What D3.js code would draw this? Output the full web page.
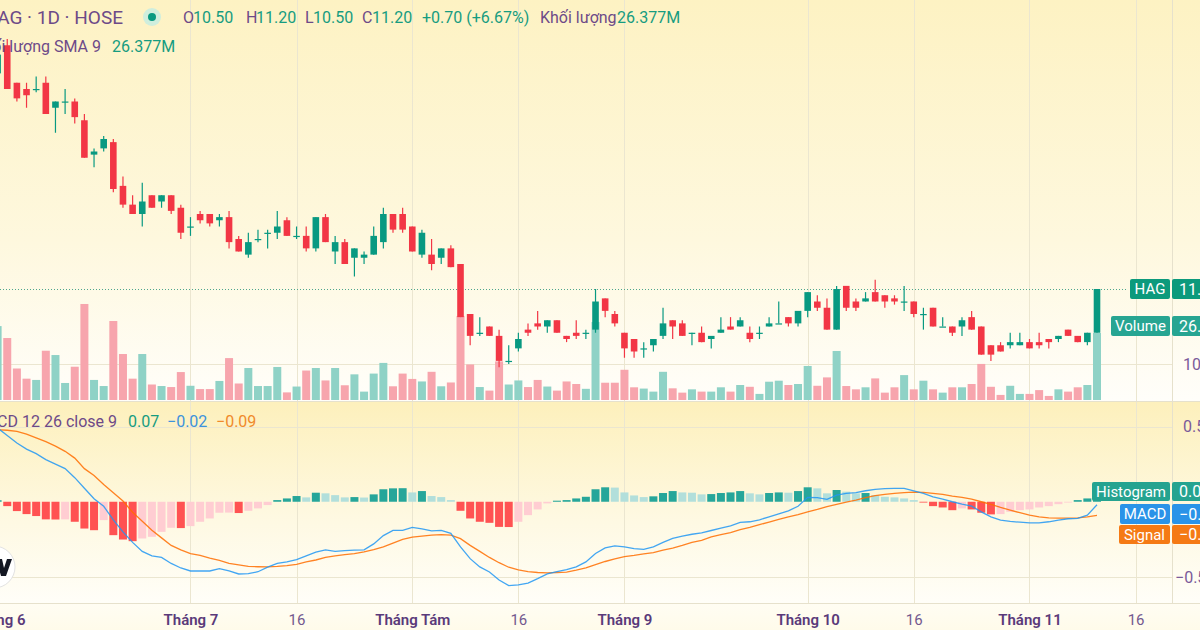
<!DOCTYPE html>
<html><head><meta charset="utf-8">
<script src="https://cdn.jsdelivr.net/npm/d3@7"></script>
<style>
html,body{margin:0;padding:0;background:#fffdf2;overflow:hidden}
svg{display:block;font-family:Roboto,"Noto Sans",sans-serif}
</style></head><body>
<svg id="c" width="1200" height="630"></svg>
<script>
// ---------- DATA ----------
const dates = [
"06-03","06-04","06-05","06-06","06-07","06-10","06-11","06-12","06-13","06-14","06-17","06-18","06-19","06-20","06-21","06-24","06-25","06-26","06-27","06-28",
"07-01","07-02","07-03","07-04","07-05","07-08","07-09","07-10","07-11","07-12","07-15","07-16","07-17","07-18","07-19","07-22","07-23","07-24","07-25","07-26","07-29","07-30","07-31",
"08-01","08-02","08-05","08-06","08-07","08-08","08-09","08-12","08-13","08-14","08-15","08-16","08-19","08-20","08-21","08-22","08-23","08-26","08-27","08-28","08-29","08-30",
"09-04","09-05","09-06","09-09","09-10","09-11","09-12","09-13","09-16","09-17","09-18","09-19","09-20","09-23","09-24","09-25","09-26","09-27","09-30",
"10-01","10-02","10-03","10-04","10-07","10-08","10-09","10-10","10-11","10-14","10-15","10-16","10-17","10-18","10-21","10-22","10-23","10-24","10-25","10-28","10-29","10-30","10-31",
"11-01","11-04","11-05","11-06","11-07","11-08","11-11","11-12"];
const open = [14.65,15.10,14.50,14.40,14.40,14.50,14.10,14.20,14.20,13.90,
13.35,13.45,13.55,12.85,12.55,12.40,12.70,12.60,12.70,12.50,
12.20,12.40,12.40,12.30,12.35,12.00,11.75,12.00,12.10,12.10,
12.30,12.05,12.05,11.85,12.35,11.80,11.95,11.70,11.70,11.75,
11.95,12.40,12.40,12.20,11.75,11.75,11.70,11.85,11.60,10.80,
10.50,10.60,10.45,10.05,10.25,10.55,10.65,10.60,10.70,10.45,
10.50,10.50,10.55,11.05,10.80,10.50,10.40,10.25,10.30,10.45,
10.70,10.65,10.50,10.50,10.40,10.50,10.60,10.60,10.50,10.50,
10.60,10.65,10.75,10.65,10.85,11.00,10.90,10.55,11.25,11.00,
11.00,11.15,11.10,11.05,11.00,11.00,10.80,10.90,10.60,10.60,
10.60,10.75,10.60,10.30,10.30,10.30,10.30,10.35,10.35,10.40,
10.40,10.55,10.45,10.35,10.50];
const high = [15.00,15.20,14.50,14.50,14.60,14.60,14.20,14.40,14.25,14.00,
13.45,13.65,13.60,13.00,12.70,12.90,12.70,12.70,12.70,12.55,
12.35,12.45,12.40,12.40,12.45,12.05,12.10,12.15,12.15,12.45,
12.35,12.20,12.20,12.35,12.40,12.05,12.00,11.85,11.80,12.20,
12.50,12.40,12.50,12.20,12.15,12.00,11.85,11.90,11.60,10.80,
10.75,10.60,10.55,10.30,10.50,10.65,10.85,10.70,10.70,10.45,
10.70,10.55,11.20,11.05,10.85,10.50,10.40,10.35,10.40,10.90,
10.70,10.70,10.50,10.60,10.45,10.75,10.75,10.75,10.60,10.60,
10.75,11.00,10.75,10.85,11.15,11.10,11.05,11.25,11.25,11.05,
11.15,11.35,11.10,11.10,11.25,11.00,10.90,10.90,10.75,10.60,
10.75,10.85,10.60,10.30,10.35,10.50,10.50,10.40,10.50,10.40,
10.45,10.55,10.45,10.50,11.20];
const low = [14.60,14.40,14.20,14.10,14.35,14.00,13.70,14.00,13.85,13.30,
13.15,13.40,12.75,12.50,12.40,12.20,12.50,12.50,12.40,12.00,
12.05,12.25,12.20,12.20,11.85,11.80,11.70,11.95,11.85,12.00,
12.05,12.00,11.80,11.80,11.95,11.60,11.60,11.40,11.60,11.75,
11.85,12.10,12.10,11.80,11.70,11.50,11.60,11.55,10.75,10.30,
10.45,10.45,9.95,10.00,10.20,10.45,10.55,10.50,10.50,10.35,
10.40,10.40,10.50,10.75,10.60,10.10,10.10,10.10,10.20,10.40,
10.40,10.45,10.30,10.35,10.25,10.50,10.55,10.60,10.35,10.40,
10.60,10.65,10.60,10.60,10.75,10.85,10.55,10.55,10.85,10.85,
11.00,11.00,10.90,10.95,10.85,10.75,10.55,10.60,10.60,10.45,
10.45,10.55,10.15,10.05,10.20,10.25,10.30,10.25,10.25,10.25,
10.35,10.45,10.35,10.30,10.50];
const close = [14.95,14.40,14.25,14.30,14.40,14.00,14.20,14.20,13.95,13.30,
13.40,13.60,12.80,12.55,12.40,12.60,12.50,12.70,12.45,12.10,
12.20,12.30,12.25,12.35,11.95,11.80,11.95,12.00,12.10,12.20,
12.05,12.05,11.85,12.35,11.95,11.95,11.60,11.85,11.75,12.05,
12.40,12.15,12.15,11.80,12.10,11.60,11.85,11.55,10.75,10.45,
10.50,10.45,10.05,10.05,10.40,10.50,10.60,10.70,10.50,10.40,
10.45,10.50,11.00,10.85,10.65,10.25,10.20,10.25,10.40,10.65,
10.60,10.45,10.50,10.35,10.45,10.55,10.55,10.70,10.40,10.50,
10.65,10.65,10.65,10.85,11.15,10.90,10.55,11.20,10.90,10.90,
11.05,11.00,11.00,11.00,11.00,10.80,10.80,10.60,10.60,10.50,
10.70,10.55,10.15,10.15,10.20,10.35,10.35,10.25,10.30,10.35,
10.45,10.45,10.35,10.50,11.20];
const volume = [29.1,24.4,12.4,8.4,7.9,19.4,17.7,6.7,13.1,37.8,
7.9,5.5,31.1,18.1,8.4,18.1,6.1,5.5,5.1,11.0,
5.6,4.3,4.3,7.5,16.5,6.5,12.6,5.5,5.5,13.0,
3.0,5.3,11.6,12.6,7.7,12.6,5.8,10.1,3.3,10.4,
14.6,5.4,10.4,8.3,7.3,11.1,5.4,6.9,33.1,14.0,
5.1,3.7,15.2,6.1,7.7,5.1,7.9,5.3,3.7,7.3,
6.3,4.4,30.7,6.8,6.8,11.9,5.0,4.5,3.3,11.1,
4.6,2.9,4.2,3.3,3.3,5.0,3.3,5.9,5.2,2.4,
7.2,7.6,5.9,6.3,13.4,5.6,8.9,19.3,5.5,4.2,
5.0,8.5,2.9,5.0,9.8,4.2,7.6,4.2,2.9,5.0,
5.0,6.3,14.2,5.2,2.0,5.6,2.4,2.4,3.9,1.6,
4.2,3.3,5.0,5.9,26.377];
const macd = [0.49,0.44,0.39,0.35,0.32,0.28,0.25,0.22,0.16,0.09,
0.02,-0.03,-0.12,-0.20,-0.27,-0.33,-0.36,-0.37,-0.41,-0.44,
-0.46,-0.46,-0.46,-0.445,-0.46,-0.48,-0.478,-0.465,-0.435,-0.41,
-0.40,-0.385,-0.36,-0.335,-0.32,-0.33,-0.325,-0.322,-0.32,-0.28,
-0.225,-0.19,-0.19,-0.17,-0.18,-0.193,-0.19,-0.21,-0.30,-0.378,
-0.433,-0.467,-0.52,-0.557,-0.553,-0.54,-0.511,-0.48,-0.465,-0.451,
-0.433,-0.40,-0.344,-0.307,-0.293,-0.30,-0.311,-0.316,-0.30,-0.27,
-0.243,-0.228,-0.216,-0.207,-0.191,-0.175,-0.16,-0.137,-0.133,-0.12,
-0.10,-0.08,-0.06,-0.03,0.029,0.027,0.016,0.044,0.056,0.06,
0.073,0.082,0.087,0.089,0.089,0.073,0.056,0.033,0.018,0,
-0.016,-0.029,-0.067,-0.10,-0.122,-0.131,-0.136,-0.14,-0.14,-0.133,
-0.122,-0.113,-0.111,-0.089,-0.02];
const signal = [0.478,0.475,0.467,0.45,0.425,0.40,0.37,0.335,0.29,0.22,
0.175,0.115,0.06,0.005,-0.07,-0.13,-0.19,-0.24,-0.29,-0.32,
-0.345,-0.357,-0.375,-0.39,-0.41,-0.42,-0.43,-0.432,-0.433,-0.43,
-0.425,-0.416,-0.40,-0.387,-0.37,-0.36,-0.352,-0.345,-0.333,-0.318,
-0.30,-0.275,-0.25,-0.235,-0.228,-0.222,-0.218,-0.222,-0.245,-0.29,
-0.33,-0.37,-0.405,-0.435,-0.452,-0.464,-0.47,-0.473,-0.47,-0.467,
-0.455,-0.44,-0.418,-0.397,-0.38,-0.365,-0.357,-0.347,-0.338,-0.322,
-0.308,-0.29,-0.27,-0.256,-0.233,-0.218,-0.205,-0.185,-0.17,-0.152,
-0.135,-0.117,-0.10,-0.085,-0.067,-0.051,-0.033,-0.018,-0.002,0.011,
0.027,0.04,0.049,0.056,0.06,0.064,0.062,0.056,0.049,0.038,
0.029,0.018,0,-0.018,-0.038,-0.056,-0.073,-0.089,-0.10,-0.107,
-0.109,-0.109,-0.107,-0.10,-0.09];
const hist = [0.01,-0.029,-0.062,-0.082,-0.095,-0.117,-0.118,-0.117,-0.133,-0.178,
-0.189,-0.122,-0.222,-0.251,-0.262,-0.244,-0.233,-0.2,-0.173,-0.175,
-0.162,-0.133,-0.111,-0.073,-0.072,-0.075,-0.06,-0.044,-0.022,0.011,
0.022,0.038,0.029,0.06,0.056,0.044,0.029,0.031,0.028,0.049,
0.083,0.089,0.09,0.062,0.071,0.038,0.031,0.011,-0.06,-0.111,
-0.133,-0.14,-0.167,-0.168,-0.133,-0.089,-0.051,-0.011,0.007,0.011,
0.022,0.033,0.083,0.096,0.094,0.062,0.042,0.031,0.036,0.058,
0.071,0.062,0.060,0.049,0.051,0.058,0.062,0.071,0.056,0.049,
0.058,0.062,0.060,0.071,0.096,0.089,0.056,0.078,0.067,0.056,
0.058,0.044,0.033,0.029,0.022,0.011,-0.004,-0.029,-0.038,-0.056,
-0.044,-0.051,-0.073,-0.084,-0.082,-0.067,-0.056,-0.051,-0.038,-0.029,
-0.016,-0.004,0.011,0.022,0.07];
const tickIndex = [0,20,31,43,54,65,84,95,107,118];
const tickLabels = ["Tháng 6","Tháng 7","16","Tháng Tám","16","Tháng 9","Tháng 10","16","Tháng 11","16"];
const tickMajor = [1,1,0,1,0,1,1,0,1,0];

// ---------- STYLE ----------
const UP="#089981", DN="#F23645", VUP="#8fd2c6", VDN="#f7a5ad";
const PURPLE="#6d4a88", GREENT="#169c80";
const W=1200,H=630, AX=1172;
const svg=d3.select("#c");
const defs=svg.append("defs");
function grad(id,stops){const g=defs.append("linearGradient").attr("id",id).attr("x1",0).attr("y1",0).attr("x2",0).attr("y2",1);
 stops.forEach(s=>g.append("stop").attr("offset",s[0]).attr("stop-color",s[1]));}
grad("g1",[[0,"#fdf2c3"],[0.6,"#fef8de"],[1,"#fffefa"]]);
grad("g2",[[0,"#fdf0bc"],[0.6,"#fef9e3"],[1,"#fffef8"]]);
grad("g3",[[0,"#fffdf3"],[1,"#fffbea"]]);
defs.append("clipPath").attr("id","cp1").append("rect").attr("x",0).attr("y",0).attr("width",AX).attr("height",401);
defs.append("clipPath").attr("id","cp2").append("rect").attr("x",0).attr("y",402).attr("width",AX).attr("height",201);

svg.append("rect").attr("width",W).attr("height",402).attr("fill","url(#g1)");
svg.append("rect").attr("y",402).attr("width",W).attr("height",201).attr("fill","url(#g2)");
svg.append("rect").attr("y",603).attr("width",W).attr("height",27).attr("fill","url(#g3)");

// ---------- SCALES ----------
const x=d3.scaleLinear().domain([0,dates.length-1]).range([-2.4,1097]);
const yP=d3.scaleLinear().domain([10,11.2]).range([364,289]);
const yV=d3.scaleLinear().domain([0,26.377]).range([400,333]);
const yM=d3.scaleLinear().domain([-0.5,0.5]).range([577,426.5]);
const idx=d3.range(dates.length);

// ---------- GRID ----------
const grid=svg.append("g").attr("stroke","#ebe6d0").attr("stroke-width",1);
grid.selectAll("line.v").data(tickIndex).join("line").attr("class","v")
 .attr("x1",d=>Math.round(x(d))+.5).attr("x2",d=>Math.round(x(d))+.5).attr("y1",0).attr("y2",603);
grid.append("line").attr("x1",0).attr("x2",AX).attr("y1",Math.round(yP(10))+.5).attr("y2",Math.round(yP(10))+.5);
[0.5,-0.5].forEach(v=>grid.append("line").attr("x1",0).attr("x2",AX).attr("y1",Math.round(yM(v))+.5).attr("y2",Math.round(yM(v))+.5));
const sep=svg.append("g").attr("stroke","#e6e1cc");
sep.append("line").attr("x1",0).attr("x2",W).attr("y1",401.5).attr("y2",401.5);
sep.append("line").attr("x1",0).attr("x2",W).attr("y1",603.5).attr("y2",603.5);
sep.append("line").attr("x1",AX+.5).attr("x2",AX+.5).attr("y1",0).attr("y2",603);

// ---------- VOLUME ----------
const p1=svg.append("g").attr("clip-path","url(#cp1)");
p1.append("g").selectAll("rect").data(idx).join("rect")
 .attr("x",i=>x(i)-4).attr("width",8)
 .attr("y",i=>yV(volume[i])).attr("height",i=>yV(0)-yV(volume[i]))
 .attr("fill",i=>close[i]>=open[i]?VUP:VDN);

// ---------- PRICE LINE ----------
p1.append("line").attr("x1",0).attr("x2",1128).attr("y1",Math.round(yP(close[close.length-1]))+.5).attr("y2",Math.round(yP(close[close.length-1]))+.5)
 .attr("stroke","#4fa78d").attr("stroke-width",1).attr("stroke-dasharray","1,2");

// ---------- CANDLES ----------
const cg=p1.append("g");
cg.selectAll("line").data(idx).join("line")
 .attr("x1",i=>x(i)).attr("x2",i=>x(i)).attr("y1",i=>yP(high[i])).attr("y2",i=>yP(low[i]))
 .attr("stroke",i=>close[i]>=open[i]?UP:DN).attr("stroke-width",1.2);
cg.selectAll("rect").data(idx).join("rect")
 .attr("x",i=>x(i)-3.3).attr("width",6.6)
 .attr("y",i=>yP(Math.max(open[i],close[i])))
 .attr("height",i=>Math.max(1.2,Math.abs(yP(open[i])-yP(close[i]))))
 .attr("fill",i=>close[i]>=open[i]?UP:DN);

// ---------- MACD ----------
const p2=svg.append("g").attr("clip-path","url(#cp2)");
function hcol(i){const h=hist[i],p=i>0?hist[i-1]:-1;
 if(h>=0) return h>p?"#26A69A":"#B2DFDB"; return h<p?"#FF5252":"#FFCDD2";}
p2.append("g").selectAll("rect").data(idx).join("rect")
 .attr("x",i=>x(i)-4).attr("width",8)
 .attr("y",i=>Math.min(yM(hist[i]),yM(0))).attr("height",i=>Math.max(0.8,Math.abs(yM(hist[i])-yM(0))))
 .attr("fill",hcol);
const ln=d3.line().x((d,i)=>x(i)).y(d=>yM(d)).curve(d3.curveLinear);
p2.append("path").attr("d",ln(signal)).attr("fill","none").attr("stroke","#FF6D00").attr("stroke-width",1.3).attr("opacity",0.85);
p2.append("path").attr("d",ln(macd)).attr("fill","none").attr("stroke","#2196F3").attr("stroke-width",1.3).attr("opacity",0.85);

// ---------- AXES ----------
const tAx=svg.append("g").attr("transform","translate(0,603)")
 .call(d3.axisBottom(x).tickValues(tickIndex).tickFormat((d,i)=>tickLabels[i]).tickSize(0).tickPadding(11));
tAx.select(".domain").remove();
tAx.selectAll("text").attr("font-size",15).attr("font-family","Roboto,sans-serif")
 .attr("fill",(d,i)=>tickMajor[i]?"#5a3a7a":"#73598f").attr("font-weight",(d,i)=>tickMajor[i]?600:400);

const pAx=svg.append("g").attr("transform",`translate(${AX},0)`)
 .call(d3.axisRight(yP).tickValues([10]).tickFormat(d3.format(".2f")).tickSize(0).tickPadding(11));
pAx.select(".domain").remove();
pAx.selectAll("text").attr("font-size",16).attr("fill","#7a5a9a").attr("font-family","Roboto,sans-serif");

const mAx=svg.append("g").attr("transform",`translate(${AX},0)`)
 .call(d3.axisRight(yM).tickValues([0.5,-0.5]).tickFormat(d=>d<0?"−"+Math.abs(d).toFixed(2):d.toFixed(2)).tickSize(0).tickPadding(11));
mAx.select(".domain").remove();
mAx.selectAll("text").attr("font-size",16).attr("fill","#7a5a9a").attr("font-family","Roboto,sans-serif")
 .attr("dx",d=>d<0?-8:0);

// ---------- RIGHT LABELS ----------
function tag(y0,h,x0,name,val,col){
 const g=svg.append("g");
 g.append("rect").attr("x",x0).attr("y",y0).attr("width",1170-x0).attr("height",h).attr("rx",2).attr("fill",col);
 g.append("rect").attr("x",1172).attr("y",y0).attr("width",40).attr("height",h).attr("rx",2).attr("fill",col);
 g.append("text").attr("x",(x0+1170)/2).attr("y",y0+h/2).attr("dy","0.35em").attr("text-anchor","middle")
  .attr("fill","#fff").attr("font-size",15).text(name);
 g.append("text").attr("x",1179).attr("y",y0+h/2).attr("dy","0.35em").attr("fill","#fff").attr("font-size",16).text(val);
}
tag(279,20,1130,"HAG",close[close.length-1].toFixed(2),"#0c9a7c");
tag(316,20,1111,"Volume",volume[volume.length-1].toFixed(3)+"M","#27a592");
tag(482,19,1092,"Histogram",hist[hist.length-1].toFixed(2),"#25a390");
tag(504,20,1120,"MACD","−"+Math.abs(macd[macd.length-1]).toFixed(2),"#2a93e8");
tag(525,19,1119,"Signal","−"+Math.abs(signal[signal.length-1]).toFixed(2),"#f57a14");

// ---------- LEGENDS ----------
const lg=svg.append("g").attr("font-family","Roboto,sans-serif");
lg.append("text").attr("x",123).attr("y",24).attr("text-anchor","end").attr("font-size",19).attr("fill",PURPLE).text("HAG · 1D · HOSE");
lg.append("circle").attr("cx",152).attr("cy",17).attr("r",9).attr("fill","#cfeedd");
lg.append("circle").attr("cx",152).attr("cy",17).attr("r",4).attr("fill",UP);
const L1=[[183,"O",PURPLE],[193,"10.50",GREENT],[246,"H",PURPLE],[256,"11.20",GREENT],[305,"L",PURPLE],[313,"10.50",GREENT],
 [362,"C",PURPLE],[372,"11.20",GREENT],[422,"+0.70 (+6.67%)",GREENT],[540,"Khối lượng",PURPLE],[617,"26.377M",GREENT]];
L1.forEach(d=>lg.append("text").attr("x",d[0]).attr("y",23).attr("font-size",16).attr("fill",d[2]).text(d[1]));
lg.append("text").attr("x",101).attr("y",52).attr("text-anchor","end").attr("font-size",16).attr("fill",PURPLE).text("Khối lượng SMA 9");
lg.append("text").attr("x",112).attr("y",52).attr("font-size",16).attr("fill",GREENT).text("26.377M");
lg.append("text").attr("x",117).attr("y",427).attr("text-anchor","end").attr("font-size",16).attr("fill",PURPLE).text("MACD 12 26 close 9");
lg.append("text").attr("x",128).attr("y",427).attr("font-size",16).attr("fill",GREENT).text(hist[hist.length-1].toFixed(2));
lg.append("text").attr("x",167).attr("y",427).attr("font-size",16).attr("fill","#3d93dc").text("−"+Math.abs(macd[macd.length-1]).toFixed(2));
lg.append("text").attr("x",216).attr("y",427).attr("font-size",16).attr("fill","#f08a2a").text("−"+Math.abs(signal[signal.length-1]).toFixed(2));

// ---------- LOGO ----------
const lo=svg.append("g");
lo.append("circle").attr("cx",-6).attr("cy",567).attr("r",21).attr("fill","#fff").attr("stroke","#e2e2e2");
lo.append("path").attr("d","M-4,559 L2,559 L4,568 L7,559 L12,559 L6,576 L1,576 Z").attr("fill","#131722");
</script>
</body></html>
